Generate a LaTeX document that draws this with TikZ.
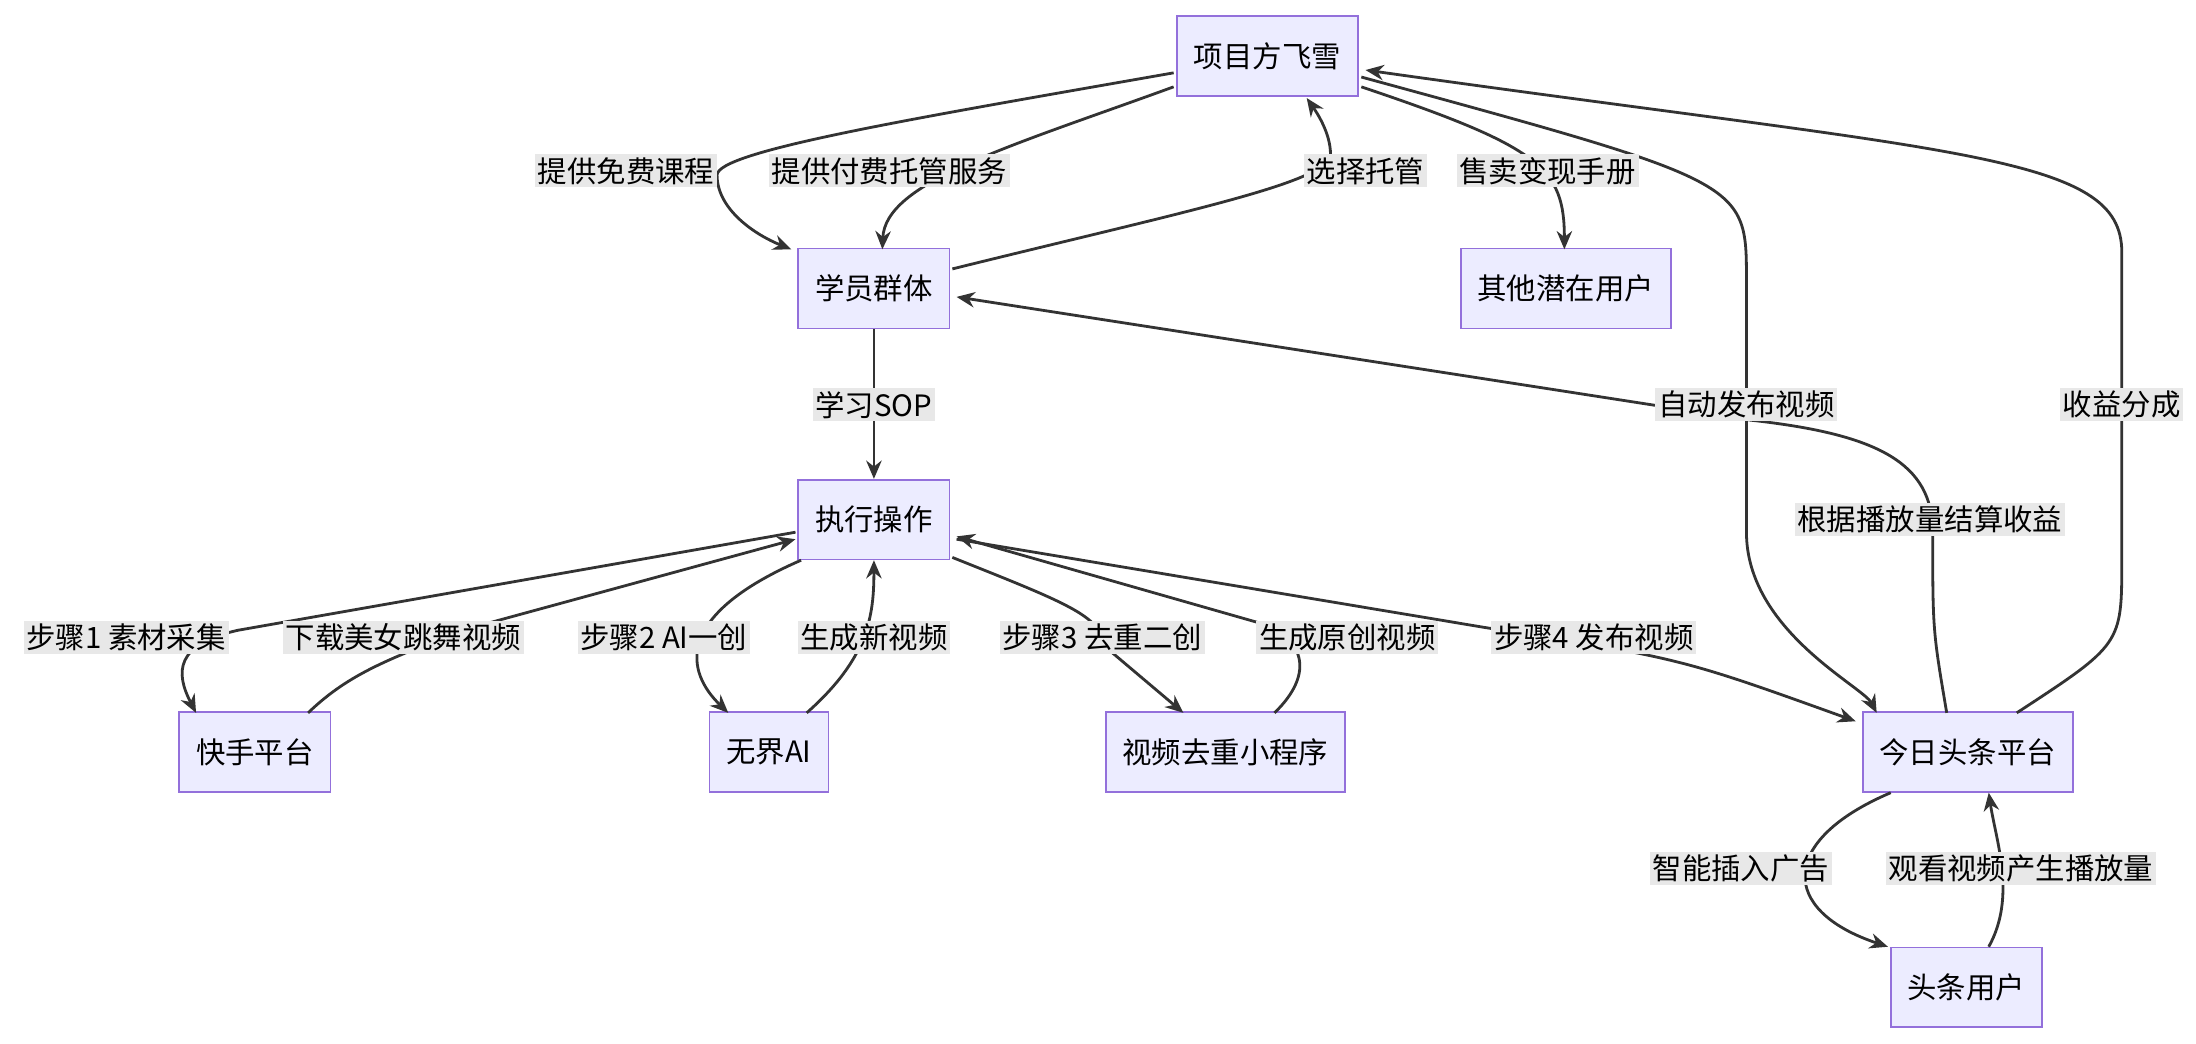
\documentclass[tikz,border=0pt]{standalone}
\usepackage{fontspec}
\newfontfamily\cjk{Noto Sans CJK SC}
\usetikzlibrary{arrows.meta}
\definecolor{boxfill}{HTML}{ECECFF}
\definecolor{boxline}{HTML}{9370DB}
\definecolor{edgecol}{HTML}{333333}
\definecolor{labfill}{HTML}{E8E8E8}
\tikzset{
	box/.style={draw=boxline, fill=boxfill, line width=1.2pt, inner xsep=12pt, minimum height=57pt, font=\cjk\fontsize{21}{24}\selectfont},
	lab/.style={fill=labfill, inner sep=2pt, font=\cjk\fontsize{21}{24}\selectfont},
	arr/.style={draw=edgecol, line width=2pt, -{Stealth[length=13pt,width=11pt]}}
}
\begin{document}
\begin{tikzpicture}[x=1pt, y=-1pt]
	\fill[white] (0,0) rectangle (1568,745);
	% nodes
	\node[box] (ceo) at (905,40) {项目方飞雪};
	\node[box] (stu) at (624,206) {学员群体};
	\node[box] (oth) at (1118,206) {其他潜在用户};
	\node[box] (exe) at (624,371) {执行操作};
	\node[box] (ks) at (182,537) {快手平台};
	\node[box] (wj) at (549,537) {无界AI};
	\node[box] (qc) at (875,537) {视频去重小程序};
	\node[box] (tt) at (1405,537) {今日头条平台};
	\node[box] (usr) at (1404,705) {头条用户};
	% connectors
	\draw[arr] (838,52) .. controls (650,85) and (512,108) .. (512,125) .. controls (512,150) and (540,168) .. (565,178);
	\draw[arr] (838,62) .. controls (720,105) and (632,130) .. (630,178);
	\draw[arr] (680,192) .. controls (850,150) and (950,130) .. (950,110) .. controls (950,95) and (940,80) .. (933,70);
	\draw[arr] (972,62) .. controls (1100,105) and (1117,120) .. (1117,178);
	\draw[arr] (972,55) .. controls (1247,130) and (1247,130) .. (1247,200) -- (1247,380) .. controls (1247,450) and (1330,490) .. (1340,509);
	\draw[arr] (1440,509) .. controls (1515,460) .. (1515,400) -- (1515,180) .. controls (1515,110) and (1400,110) .. (975,50);
	\draw[arr] (1390,509) .. controls (1380,450) .. (1380,380) .. controls (1380,330) and (1340,310) .. (1250,300) -- (683,212);
	\draw[arr] (stu) -- (exe);
	\draw[arr] (568,380) -- (170,450) .. controls (125,460) and (125,480) .. (140,509);
	\draw[arr] (220,509) .. controls (250,480) and (280,470) .. (330,450) -- (568,385);
	\draw[arr] (572,400) .. controls (480,440) and (490,480) .. (520,509);
	\draw[arr] (576,509) .. controls (620,470) and (624,440) .. (624,400);
	\draw[arr] (680,398) .. controls (760,430) and (787,440) .. (787,460) -- (845,509);
	\draw[arr] (910,509) .. controls (940,480) and (930,455) .. (900,445) -- (683,383);
	\draw[arr] (683,385) -- (1060,448) .. controls (1200,470) .. (1325,515);
	\draw[arr] (1350,566) .. controls (1270,600) and (1270,650) .. (1348,676);
	\draw[arr] (1420,676) .. controls (1440,640) and (1425,600) .. (1420,566);
	% labels
	\node[lab] (l1) at (447,122) {提供免费课程};
	\node[lab] (l2) at (635,122) {提供付费托管服务};
	\node[lab] (l3) at (975,122) {选择托管};
	\node[lab] (l4) at (1105,122) {售卖变现手册};
	\node[lab] (l5) at (1247,289) {自动发布视频};
	\node[lab] (l6) at (1515,289) {收益分成};
	\node[lab] (l7) at (1378,371) {根据播放量结算收益};
	\node[lab] (l8) at (624,289) {学习SOP};
	\node[lab] (l9) at (90,455) {步骤1 素材采集};
	\node[lab] (l10) at (288,455) {下载美女跳舞视频};
	\node[lab] (l11) at (474,455) {步骤2 AI一创};
	\node[lab] (l12) at (624,455) {生成新视频};
	\node[lab] (l13) at (787,455) {步骤3 去重二创};
	\node[lab] (l14) at (962,455) {生成原创视频};
	\node[lab] (l15) at (1138,455) {步骤4 发布视频};
	\node[lab] (l16) at (1243,620) {智能插入广告};
	\node[lab] (l17) at (1443,620) {观看视频产生播放量};
\end{tikzpicture}
\end{document}
